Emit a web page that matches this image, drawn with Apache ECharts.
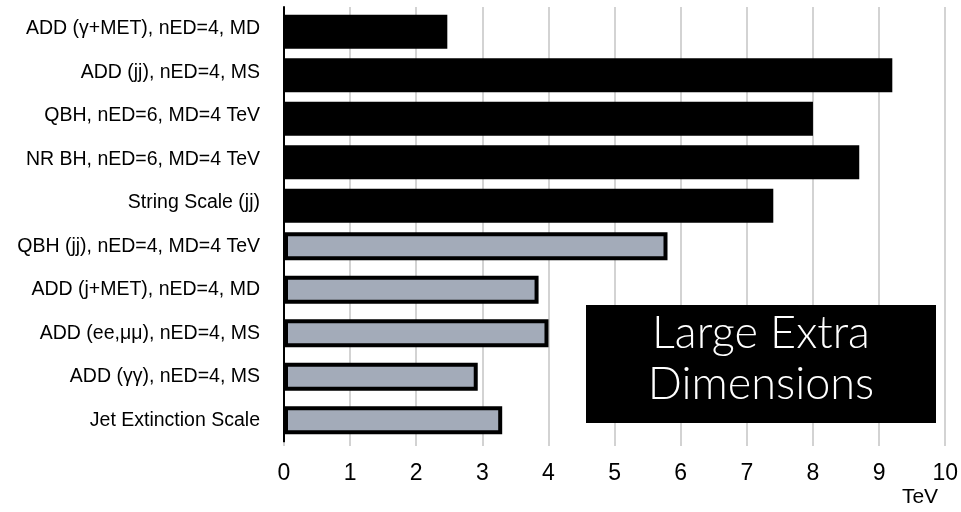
<!DOCTYPE html>
<html>
<head>
<meta charset="utf-8">
<script src="https://cdn.jsdelivr.net/npm/echarts@6/dist/echarts.min.js"></script>
<style>
  html, body { margin: 0; padding: 0; background: #fff; }
  #chart { width: 961px; height: 512px; }
</style>
</head>
<body>
<div id="chart"></div>
<script>
// Search channels, listed top to bottom
const categories = [
  'ADD (γ+MET), nED=4, MD',
  'ADD (jj), nED=4, MS',
  'QBH, nED=6, MD=4 TeV',
  'NR BH, nED=6, MD=4 TeV',
  'String Scale (jj)',
  'QBH (jj), nED=4, MD=4 TeV',
  'ADD (j+MET), nED=4, MD',
  'ADD (ee,μμ), nED=4, MS',
  'ADD (γγ), nED=4, MS',
  'Jet Extinction Scale'
];

// Limits in TeV; null where the channel belongs to the other group
const solidLimits = [2.47, 9.2, 8.0, 8.7, 7.4, null, null, null, null, null];
const outlinedLimits = [null, null, null, null, null, 5.8, 3.85, 4.0, 2.93, 3.3];

const xTicks = [0, 1, 2, 3, 4, 5, 6, 7, 8, 9, 10];
const unitLabel = 'TeV';
const boxLines = ['Large Extra', 'Dimensions'];

const chart = echarts.init(document.getElementById('chart'));

// category axis runs top-down
const cats = categories.slice().reverse();
const solid = solidLimits.slice().reverse();
const outlined = outlinedLimits.slice().reverse();

chart.setOption({
  animation: false,
  backgroundColor: '#ffffff',
  grid: { left: 284, right: 13.5, top: 7, height: 435, containLabel: false },
  xAxis: {
    type: 'value',
    min: xTicks[0],
    max: xTicks[xTicks.length - 1],
    interval: 1,
    axisLine: { show: false },
    axisTick: { show: true, length: 4, lineStyle: { color: '#c4c4c4', width: 1.5 } },
    splitLine: { show: true, lineStyle: { color: '#c4c4c4', width: 1.5 } },
    axisLabel: {
      color: '#000', fontSize: 23, fontFamily: 'Liberation Sans, Arial, sans-serif',
      margin: 20
    }
  },
  yAxis: {
    type: 'category',
    data: cats,
    axisLine: { show: true, lineStyle: { color: '#000', width: 2 } },
    axisTick: { show: false },
    splitLine: { show: false },
    axisLabel: {
      color: '#000', fontSize: 19.5, fontFamily: 'Liberation Sans, Arial, sans-serif',
      margin: 24
    }
  },
  series: [
    {
      type: 'bar',
      data: solid,
      barWidth: 34,
      barGap: '-100%',
      itemStyle: { color: '#000' },
      z: 2
    },
    {
      type: 'bar',
      data: outlined,
      barWidth: 28,
      barGap: '-100%',
      itemStyle: { color: '#a3abb9', borderColor: '#000', borderWidth: 4 },
      z: 3
    }
  ],
  graphic: [
    {
      type: 'rect',
      shape: { x: 586, y: 305, width: 350, height: 118 },
      style: { fill: '#000' },
      z: 10
    },
    {
      type: 'text',
      x: 761, y: 356,
      style: {
        text: boxLines[0], fill: '#fff', font: '300 45px Lato, "Open Sans", sans-serif',
        align: 'center', verticalAlign: 'bottom'
      },
      z: 11
    },
    {
      type: 'text',
      x: 761, y: 407,
      style: {
        text: boxLines[1], fill: '#fff', font: '300 45px Lato, "Open Sans", sans-serif',
        align: 'center', verticalAlign: 'bottom'
      },
      z: 11
    },
    {
      type: 'text',
      x: 920, y: 497,
      style: {
        text: unitLabel, fill: '#000', font: '21px "Liberation Sans", Arial, sans-serif',
        align: 'center', verticalAlign: 'middle'
      },
      z: 11
    }
  ]
});
</script>
</body>
</html>
